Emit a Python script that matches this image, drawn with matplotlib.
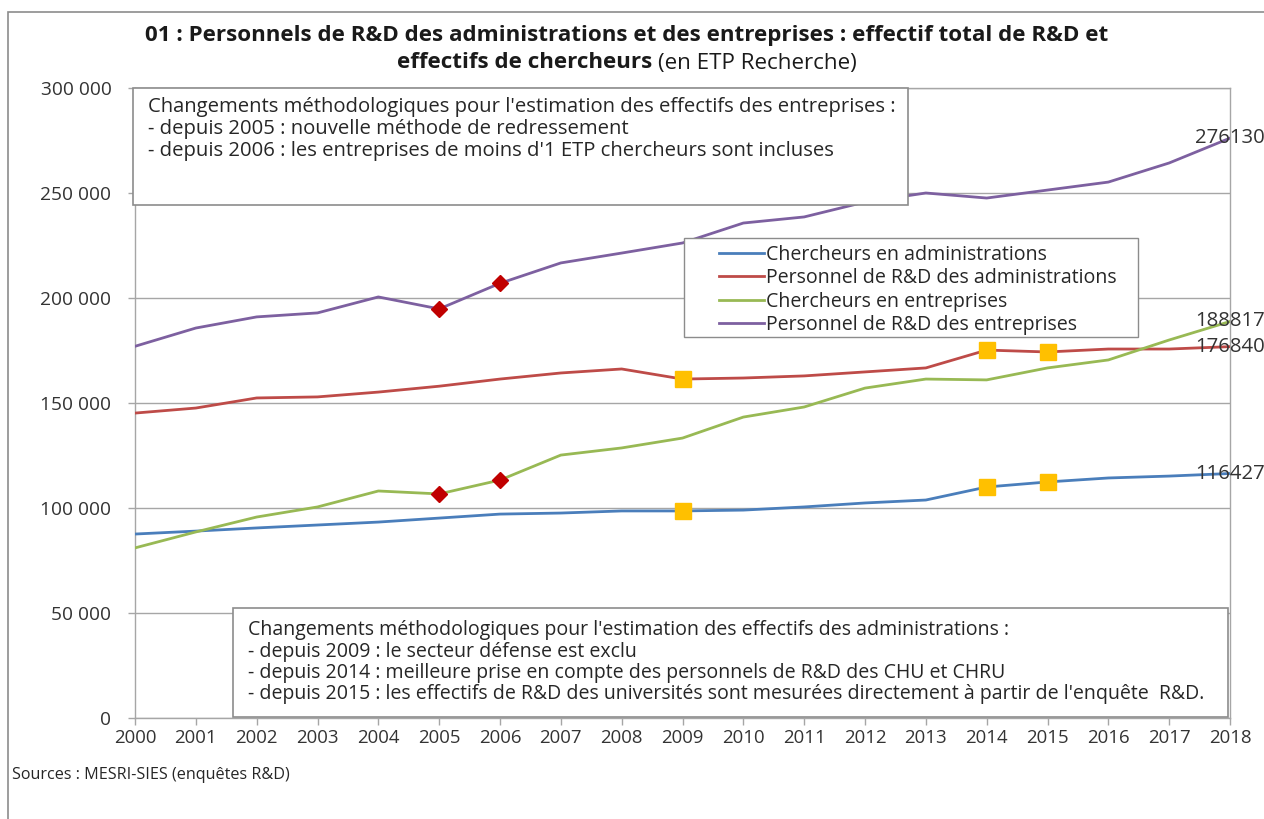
import matplotlib
matplotlib.use("Agg")
import matplotlib.pyplot as plt
from matplotlib.patches import Rectangle

plt.rcParams['font.family'] = ['Open Sans', 'DejaVu Sans']

# ---- data (ETP Recherche) ----
years = list(range(2000, 2019))
chercheurs_admin = [87600, 89000, 90500, 91900, 93300, 95200, 97100, 97600, 98600, 98600,
                    99000, 100500, 102400, 103800, 110000, 112400, 114300, 115200, 116427]
personnel_admin = [145200, 147600, 152400, 152900, 155200, 158000, 161400, 164300, 166200, 161400,
                   161900, 162900, 164800, 166700, 175200, 174300, 175700, 175700, 176840]
chercheurs_entr = [81000, 88600, 95700, 100500, 108100, 106700, 113300, 125200, 128600, 133300,
                   143300, 148100, 157100, 161400, 161000, 166700, 170500, 180000, 188817]
personnel_entr = [177000, 185700, 191000, 192900, 200500, 194800, 207000, 216700, 221400, 226200,
                  235700, 238600, 245700, 250000, 247600, 251400, 255200, 264300, 276130]

series_names = ["Chercheurs en administrations",
                "Personnel de R&D des administrations",
                "Chercheurs en entreprises",
                "Personnel de R&D des entreprises"]
series_values = [chercheurs_admin, personnel_admin, chercheurs_entr, personnel_entr]
series_colors = ["#4A7EBB", "#BE4B48", "#98B954", "#7D60A0"]

# years flagged by a change of method
breaks_entreprises = [2005, 2006]
breaks_administrations = [2009, 2014, 2015]

y_ticks = [0, 50000, 100000, 150000, 200000, 250000, 300000]

title_line1 = "01 : Personnels de R&D des administrations et des entreprises : effectif total de R&D et"
title_line2_bold = "effectifs de chercheurs"
title_line2_rest = "(en ETP Recherche)"

note_entreprises = ["Changements méthodologiques pour l'estimation des effectifs des entreprises :",
                    "- depuis 2005 : nouvelle méthode de redressement",
                    "- depuis 2006 : les entreprises de moins d'1 ETP chercheurs sont incluses"]
note_administrations = ["Changements méthodologiques pour l'estimation des effectifs des administrations :",
                        "- depuis 2009 : le secteur défense est exclu",
                        "- depuis 2014 : meilleure prise en compte des personnels de R&D des CHU et CHRU",
                        "- depuis 2015 : les effectifs de R&D des universités sont mesurées directement à partir de l'enquête  R&D."]
source_text = "Sources : MESRI-SIES (enquêtes R&D)"

# ---- figure ----
W, H = 1264, 819
fig = plt.figure(figsize=(W / 100, H / 100), dpi=100)
renderer = fig.canvas.get_renderer()


def fx(x):
    return x / W


def fy(y):
    return 1 - y / H


def size_for_width(text, width_px, weight='normal'):
    """Font size at which `text` spans `width_px` pixels."""
    probe = fig.text(0, 0, text, fontsize=12, fontweight=weight)
    w = probe.get_window_extent(renderer).width
    probe.remove()
    return 12 * width_px / w


def text_width(text, size, weight='normal'):
    probe = fig.text(0, 0, text, fontsize=size, fontweight=weight)
    w = probe.get_window_extent(renderer).width
    probe.remove()
    return w


TEXT = "#262626"
GRID = "#A6A6A6"
BORDER = "#8C8C8C"

fs_title = size_for_width(title_line1, 961, 'bold')
fs_note_e = size_for_width(note_entreprises[0], 742)
fs_note_a = size_for_width(note_administrations[-1], 951)
fs_legend = size_for_width(series_names[1], 348)
fs_ytick = size_for_width("300 000", 71)
fs_xtick = size_for_width("2000", 43)
fs_value = size_for_width("276130", 70)
fs_source = size_for_width(source_text, 276)

# chart area border
fig.patches.append(Rectangle((fx(8), fy(830)), fx(1270) - fx(8), fy(12) - fy(830),
                             transform=fig.transFigure, fill=False, edgecolor=BORDER, lw=1.2))

ax = fig.add_axes([fx(135), fy(718), fx(1230) - fx(135), fy(88) - fy(718)])

for vals, col, name in zip(series_values, series_colors, series_names):
    ax.plot(years, vals, color=col, lw=2.0, label=name, solid_joinstyle='round', zorder=3)

# markers on the years with a change of method
for vals in (chercheurs_entr, personnel_entr):
    ax.plot(breaks_entreprises, [vals[years.index(y)] for y in breaks_entreprises],
            linestyle='none', marker='D', ms=8, color="#C00000", zorder=4)
for vals in (chercheurs_admin, personnel_admin):
    ax.plot(breaks_administrations, [vals[years.index(y)] for y in breaks_administrations],
            linestyle='none', marker='s', ms=11, color="#FFC000", zorder=4)

# value labels on the last point of each series
for vals in series_values:
    ax.text(years[-1], vals[-1], f"{vals[-1]:d}", ha='center', va='center',
            fontsize=fs_value, color="#333333", zorder=5, clip_on=False)

ax.set_xlim(2000, 2018)
ax.set_ylim(0, 300000)
ax.set_xticks(years)
ax.set_xticklabels([str(y) for y in years], fontsize=fs_xtick)
ax.set_yticks(y_ticks)
ax.set_yticklabels([f"{v:,}".replace(",", " ") for v in y_ticks], fontsize=fs_ytick)
ax.grid(axis='y', color=GRID, lw=1.0)
ax.set_axisbelow(True)
for s in ax.spines.values():
    s.set_color(GRID)
    s.set_linewidth(1.0)
ax.tick_params(axis='both', colors=GRID, labelcolor="#333333", length=5, width=1.0)
ax.tick_params(axis='x', pad=3)
ax.tick_params(axis='y', pad=12)

# title
fig.text(fx(627), fy(36), title_line1, ha='center', va='center', fontsize=fs_title,
         fontweight='bold', color="#1A1A1A")
w_b = text_width(title_line2_bold, fs_title, 'bold')
w_r = text_width(title_line2_rest, fs_title)
gap = 6
x0 = 627 - (w_b + gap + w_r) / 2
fig.text(fx(x0), fy(63), title_line2_bold, ha='left', va='center', fontsize=fs_title,
         fontweight='bold', color="#1A1A1A")
fig.text(fx(x0 + w_b + gap), fy(63), title_line2_rest, ha='left', va='center',
         fontsize=fs_title, color="#1A1A1A")

# note box for companies
fig.patches.append(Rectangle((fx(133), fy(205)), fx(908) - fx(133), fy(88) - fy(205),
                             transform=fig.transFigure, facecolor='white', edgecolor=BORDER,
                             lw=1.2, zorder=5))
for i, line in enumerate(note_entreprises):
    fig.text(fx(148), fy(107 + 22 * i), line, ha='left', va='center', fontsize=fs_note_e,
             color=TEXT, zorder=6)

# note box for administrations
fig.patches.append(Rectangle((fx(233), fy(717)), fx(1228) - fx(233), fy(608) - fy(717),
                             transform=fig.transFigure, facecolor='white', edgecolor=BORDER,
                             lw=1.2, zorder=5))
for i, line in enumerate(note_administrations):
    fig.text(fx(248), fy(630 + 21.5 * i), line, ha='left', va='center', fontsize=fs_note_a,
             color=TEXT, zorder=6)

# legend
fig.patches.append(Rectangle((fx(684), fy(337)), fx(1138) - fx(684), fy(238) - fy(337),
                             transform=fig.transFigure, facecolor='white', edgecolor=BORDER,
                             lw=1.0, zorder=5))
handle_px = 45
leg = fig.legend(loc='upper left', bbox_to_anchor=(fx(706), fy(232)), frameon=False,
                 fontsize=fs_legend, handlelength=handle_px / (fs_legend * 100 / 72),
                 handletextpad=0.1, labelspacing=0.18, borderpad=0.15, labelcolor=TEXT)
leg.set_zorder(6)

fig.text(fx(12), fy(775), source_text, ha='left', va='center', fontsize=fs_source, color=TEXT)

fig.savefig("out.png", dpi=100, facecolor='white')
